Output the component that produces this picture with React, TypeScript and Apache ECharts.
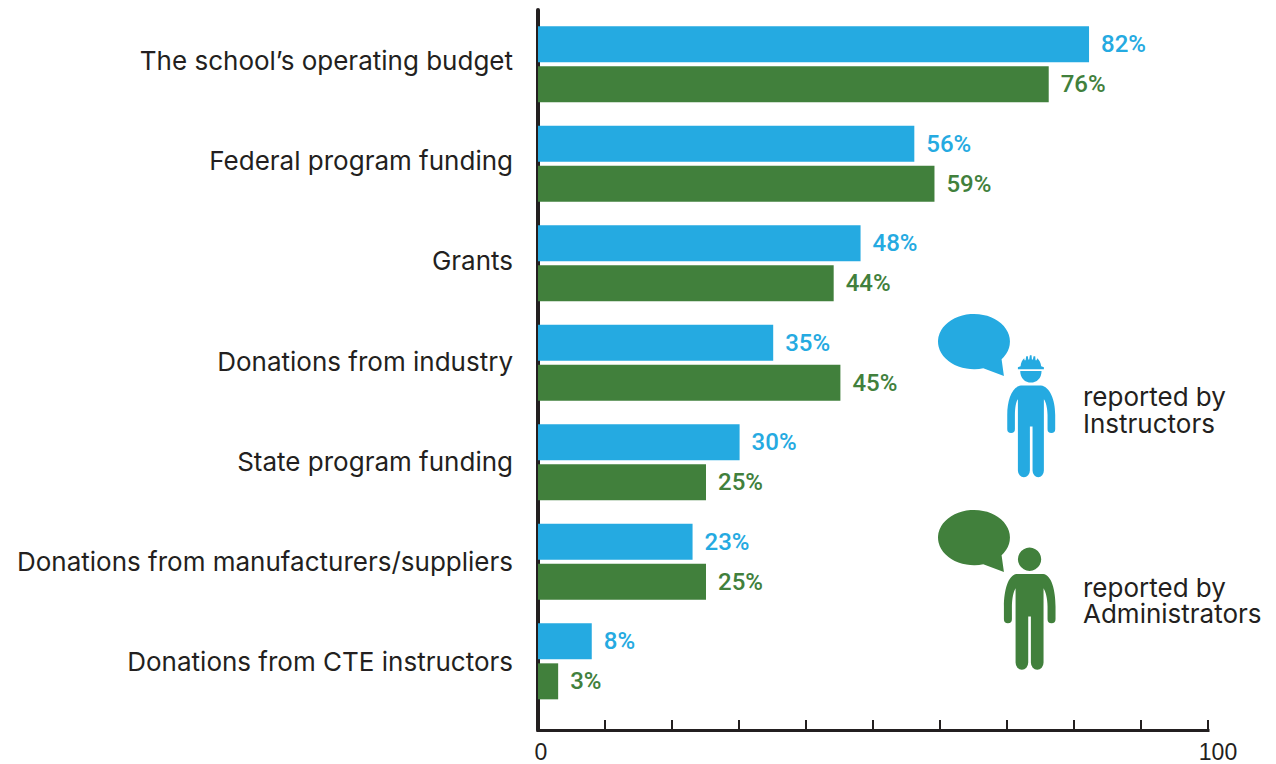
import React, { useEffect, useRef } from "react";
import * as echarts from "echarts";

const categories = [
  "The school’s operating budget",
  "Federal program funding",
  "Grants",
  "Donations from industry",
  "State program funding",
  "Donations from manufacturers/suppliers",
  "Donations from CTE instructors",
];
const instructors = [82, 56, 48, 35, 30, 23, 8];
const administrators = [76, 59, 44, 45, 25, 25, 3];
const BLUE = "#25aae1";
const GREEN = "#41803c";
const INK = "#231f20";

const BUBBLE = "M245 178 L252 228 L190 205 A108 83 0 1 1 245 178 Z";
const WORKER_BODY =
  "M303 257 L363 257 C390 260 406 300 406 345 L406 388 A11.5 11.5 0 0 1 383 388 L383 345 C383 325 378 305 372 298 L372 512 A17 20 0 0 1 338 512 L338 380 L330 380 L330 512 A18 20 0 0 1 294 512 L294 298 C288 305 285 325 285 345 L285 388 A11.5 11.5 0 0 1 262 388 L262 345 C262 300 276 260 303 257 Z";
const WORKER_FACE = "M301 213 L365 213 C365 235 350 248 333 248 C316 248 301 235 301 213 Z";
const WORKER_HELMET =
  "M294 208 L372 208 L372 202 L364 199 C363 188 358 180 352 175 L350 181 L347 181 L346 169 L341 169 L339 179 L336 179 L335 166 L330 166 L328 179 L325 179 L324 169 L319 169 L317 181 L314 181 L313 175 C307 180 303 188 302 199 L294 202 Z";
const ADMIN =
  "M290 222 L370 222 C395 225 407 270 407 320 L407 358 A12 12 0 0 1 383 358 L383 320 C383 295 377 275 371 265 L371 488 A19 22 0 0 1 333 488 L333 350 L325 350 L325 488 A19 22 0 0 1 287 488 L287 265 C281 275 276 295 276 320 L276 358 A12 12 0 0 1 252 358 L252 320 C252 270 265 225 290 222 Z";

echarts.graphic.registerShape("bubble", echarts.graphic.extendPath(BUBBLE, {}));
echarts.graphic.registerShape("workerBody", echarts.graphic.extendPath(WORKER_BODY, {}));
echarts.graphic.registerShape("workerFace", echarts.graphic.extendPath(WORKER_FACE, {}));
echarts.graphic.registerShape("workerHelmet", echarts.graphic.extendPath(WORKER_HELMET, {}));
echarts.graphic.registerShape("admin", echarts.graphic.extendPath(ADMIN, {}));

const FONT = "Inter";
const S = 1 / 3;

const legendText = (x: number, y: number, text: string) => ({
  type: "text",
  x,
  y,
  style: {
    text,
    fill: INK,
    font: `26px ${FONT}`,
    lineHeight: 26.5,
    textVerticalAlign: "middle",
    textAlign: "left",
  },
});
const shape = (type: string, x: number, y: number, fill: string) => ({
  type,
  x,
  y,
  scaleX: S,
  scaleY: S,
  style: { fill },
});

export default function App() {
  const ref = useRef<HTMLDivElement>(null);
  useEffect(() => {
    const chart = echarts.init(ref.current!, undefined, { renderer: "svg" });
    const hiddenX = { type: "value", min: 0, max: 100, show: false };
    const seriesLabel = (color: string) => ({
      show: true,
      position: "right",
      distance: 12,
      formatter: "{c}%",
      color,
      fontFamily: "Roboto",
      fontWeight: 500,
      fontSize: 24,
    });
    chart.setOption({
      animation: false,
      grid: [
        { left: 538, width: 672, top: 14.6, height: 696.5 },
        { left: 538, width: 670, top: 10, height: 702 },
        { left: 538, width: 670, top: 10, height: 720 },
      ],
      xAxis: [
        { ...hiddenX, gridIndex: 0 },
        { ...hiddenX, gridIndex: 1 },
        {
          type: "value",
          gridIndex: 2,
          min: 0,
          max: 100,
          interval: 10,
          splitLine: { show: false },
          axisLine: { show: true, lineStyle: { color: INK, width: 3, cap: "square" } },
          axisTick: { show: true, inside: true, length: 10, lineStyle: { color: INK, width: 2 } },
          axisLabel: {
            margin: 10,
            showMinLabel: true,
            showMaxLabel: true,
            formatter: (v: number) => (v === 0 ? "{a|0}" : v === 100 ? "{b|100}" : ""),
            rich: {
              a: { fontFamily: "Liberation Sans", fontSize: 23, color: INK, padding: [0, 0, 0, 6] },
              b: { fontFamily: "Liberation Sans", fontSize: 23, color: INK, padding: [0, 0, 0, 20] },
            },
          },
        },
      ],
      yAxis: [
        { type: "category", gridIndex: 0, data: categories, inverse: true, show: false },
        {
          type: "category",
          gridIndex: 1,
          data: categories,
          inverse: true,
          axisLine: { show: false },
          axisTick: { show: false },
          axisLabel: { margin: 25, color: INK, fontFamily: FONT, fontSize: 26 },
        },
        {
          type: "value",
          gridIndex: 2,
          min: 0,
          max: 100,
          splitLine: { show: false },
          axisTick: { show: false },
          axisLabel: { show: false },
          axisLine: { show: true, lineStyle: { color: INK, width: 4 } },
        },
      ],
      series: [
        {
          name: "reported by Instructors",
          type: "bar",
          xAxisIndex: 0,
          yAxisIndex: 0,
          data: instructors,
          barWidth: 36,
          barGap: "11%",
          itemStyle: { color: BLUE },
          label: seriesLabel(BLUE),
          z: 5,
        },
        {
          name: "reported by Administrators",
          type: "bar",
          xAxisIndex: 0,
          yAxisIndex: 0,
          data: administrators,
          barWidth: 36,
          barGap: "11%",
          itemStyle: { color: GREEN },
          label: seriesLabel(GREEN),
          z: 5,
        },
      ],
      graphic: [
        shape("bubble", 920, 300, BLUE),
        shape("workerBody", 920, 300, BLUE),
        shape("workerFace", 920, 300, BLUE),
        shape("workerHelmet", 920, 300, BLUE),
        legendText(1083, 410, "reported by\nInstructors"),
        shape("bubble", 920, 496, GREEN),
        shape("admin", 920, 500, GREEN),
        { type: "circle", x: 920, y: 500, scaleX: S, scaleY: S, shape: { cx: 329, cy: 178, r: 35 }, style: { fill: GREEN } },
        legendText(1083, 600.5, "reported by\nAdministrators"),
      ],
    });
    return () => chart.dispose();
  }, []);
  return <div ref={ref} style={{ position: "absolute", left: 0, top: 0, width: 1276, height: 764 }} />;
}
